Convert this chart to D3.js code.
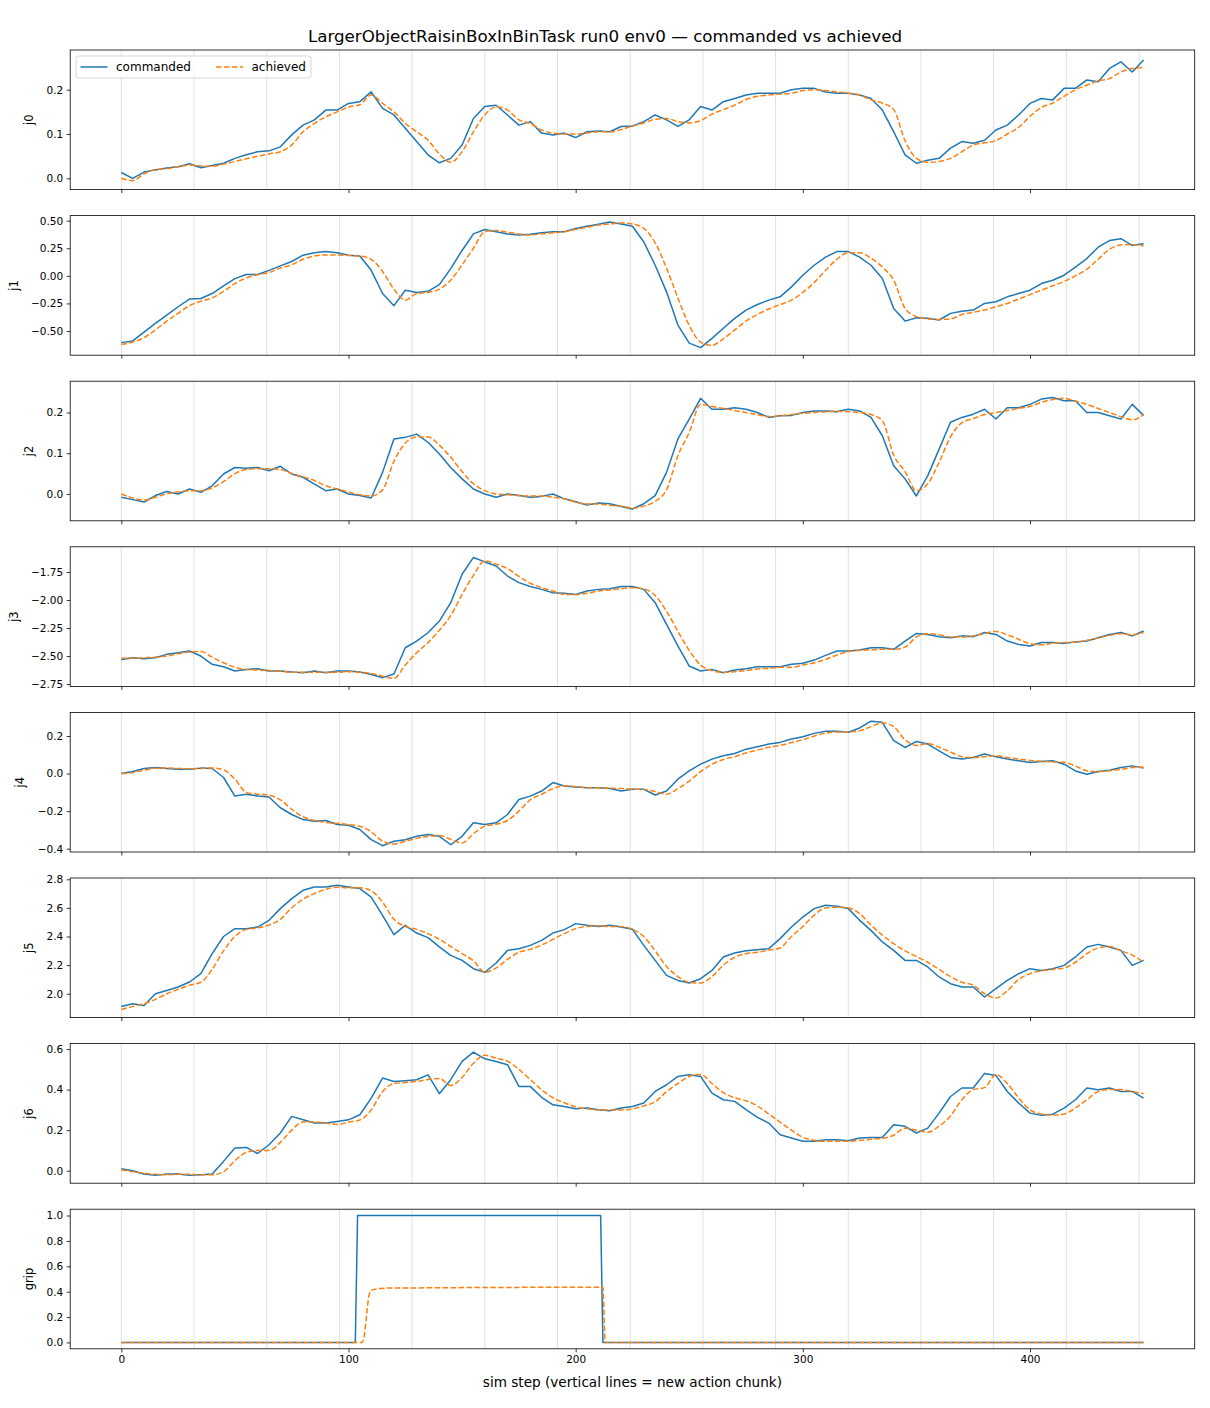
<!DOCTYPE html>
<html>
<head>
<meta charset="utf-8">
<script src="https://cdn.jsdelivr.net/npm/d3@7"></script>
<style>
  body { margin: 0; background: #fff; }
  text { font-family: "DejaVu Sans", sans-serif; }
</style>
</head>
<body>
<div id="chart"></div>
<script>
/* Chart data. */
const steps = [0, 5, 10, 15, 20, 25, 30, 35, 40, 45, 50, 55, 60, 65, 70, 75, 80, 85, 90, 95,
    100, 105, 110, 115, 120, 125, 130, 135, 140, 145, 150, 155, 160, 165, 170, 175, 180, 185, 190, 195,
    200, 205, 210, 215, 220, 225, 230, 235, 240, 245, 250, 255, 260, 265, 270, 275, 280, 285, 290, 295,
    300, 305, 310, 315, 320, 325, 330, 335, 340, 345, 350, 355, 360, 365, 370, 375, 380, 385, 390, 395,
    400, 405, 410, 415, 420, 425, 430, 435, 440, 445, 450];

const j0Cmd = [0.013, 0.0, 0.014, 0.019, 0.023, 0.026, 0.033, 0.024, 0.029, 0.034, 0.045, 0.053, 0.06, 0.062, 0.071, 0.098, 0.12, 0.132, 0.154, 0.154,
    0.169, 0.173, 0.195, 0.158, 0.143, 0.113, 0.083, 0.053, 0.035, 0.045, 0.075, 0.135, 0.162, 0.165, 0.143, 0.12, 0.128, 0.102, 0.098, 0.102,
    0.092, 0.105, 0.107, 0.105, 0.117, 0.118, 0.128, 0.143, 0.132, 0.117, 0.132, 0.162, 0.154, 0.173, 0.18, 0.188, 0.192, 0.192, 0.192, 0.2,
    0.203, 0.203, 0.195, 0.192, 0.192, 0.188, 0.18, 0.154, 0.105, 0.053, 0.034, 0.041, 0.045, 0.068, 0.083, 0.079, 0.086, 0.109, 0.12, 0.143,
    0.169, 0.18, 0.177, 0.203, 0.203, 0.222, 0.218, 0.248, 0.263, 0.24, 0.267];
const j0Ach = [0.0, -0.005, 0.01, 0.02, 0.022, 0.026, 0.03, 0.028, 0.027, 0.032, 0.038, 0.044, 0.05, 0.055, 0.06, 0.075, 0.105, 0.124, 0.139, 0.15,
    0.161, 0.166, 0.188, 0.169, 0.15, 0.124, 0.105, 0.086, 0.055, 0.036, 0.06, 0.105, 0.143, 0.161, 0.154, 0.132, 0.124, 0.109, 0.102, 0.1,
    0.1, 0.102, 0.105, 0.105, 0.11, 0.118, 0.125, 0.133, 0.135, 0.128, 0.125, 0.13, 0.145, 0.155, 0.165, 0.178, 0.185, 0.188, 0.19, 0.192,
    0.198, 0.2, 0.198, 0.195, 0.192, 0.188, 0.177, 0.17, 0.155, 0.085, 0.045, 0.036, 0.038, 0.045, 0.06, 0.075, 0.08, 0.085, 0.1, 0.115,
    0.14, 0.16, 0.17, 0.185, 0.2, 0.21, 0.22, 0.225, 0.24, 0.248, 0.25];

const j1Cmd = [-0.605, -0.59, -0.51, -0.43, -0.355, -0.28, -0.21, -0.205, -0.16, -0.09, -0.025, 0.012, 0.012, 0.05, 0.09, 0.13, 0.187, 0.21, 0.22, 0.21,
    0.187, 0.18, 0.05, -0.16, -0.27, -0.13, -0.15, -0.14, -0.08, 0.066, 0.23, 0.38, 0.42, 0.4, 0.38, 0.37, 0.376, 0.39, 0.4, 0.4,
    0.43, 0.45, 0.467, 0.488, 0.47, 0.45, 0.307, 0.096, -0.145, -0.446, -0.61, -0.65, -0.566, -0.475, -0.385, -0.31, -0.26, -0.22, -0.19, -0.1,
    0.006, 0.096, 0.17, 0.22, 0.22, 0.17, 0.096, -0.024, -0.295, -0.41, -0.38, -0.385, -0.4, -0.34, -0.32, -0.31, -0.25, -0.235, -0.19, -0.16,
    -0.13, -0.07, -0.04, 0.006, 0.08, 0.157, 0.26, 0.32, 0.337, 0.277, 0.29];
const j1Ach = [-0.62, -0.6, -0.56, -0.49, -0.41, -0.34, -0.27, -0.23, -0.2, -0.14, -0.07, -0.02, 0.01, 0.03, 0.07, 0.1, 0.15, 0.18, 0.19, 0.19,
    0.185, 0.18, 0.15, 0.04, -0.12, -0.22, -0.16, -0.15, -0.12, -0.04, 0.1, 0.25, 0.4, 0.41, 0.395, 0.38, 0.37, 0.38, 0.39, 0.4,
    0.42, 0.44, 0.46, 0.47, 0.48, 0.47, 0.43, 0.3, 0.07, -0.2, -0.45, -0.6, -0.63, -0.57, -0.49, -0.41, -0.35, -0.3, -0.26, -0.22,
    -0.15, -0.06, 0.05, 0.15, 0.21, 0.21, 0.16, 0.08, -0.04, -0.295, -0.37, -0.39, -0.395, -0.39, -0.35, -0.33, -0.31, -0.28, -0.25, -0.21,
    -0.17, -0.13, -0.09, -0.05, 0.0, 0.06, 0.15, 0.24, 0.28, 0.285, 0.27];

const j2Cmd = [-0.008, -0.014, -0.02, -0.004, 0.006, 0.0, 0.012, 0.004, 0.02, 0.049, 0.065, 0.063, 0.065, 0.057, 0.068, 0.049, 0.041, 0.024, 0.008, 0.012,
    0.0, -0.004, -0.01, 0.053, 0.135, 0.139, 0.147, 0.127, 0.098, 0.065, 0.037, 0.012, 0.0, -0.008, 0.0, -0.004, -0.008, -0.006, 0.0, -0.012,
    -0.019, -0.027, -0.022, -0.024, -0.031, -0.037, -0.024, -0.004, 0.053, 0.135, 0.184, 0.235, 0.208, 0.208, 0.212, 0.208, 0.2, 0.188, 0.192, 0.193,
    0.2, 0.204, 0.204, 0.202, 0.208, 0.204, 0.188, 0.143, 0.069, 0.037, -0.005, 0.045, 0.11, 0.176, 0.188, 0.196, 0.208, 0.184, 0.212, 0.212,
    0.22, 0.233, 0.237, 0.229, 0.229, 0.2, 0.2, 0.192, 0.184, 0.22, 0.193];
const j2Ach = [0.0, -0.01, -0.015, -0.008, 0.0, 0.005, 0.008, 0.008, 0.015, 0.03, 0.05, 0.06, 0.062, 0.062, 0.06, 0.05, 0.042, 0.033, 0.02, 0.012,
    0.005, -0.002, -0.005, 0.01, 0.08, 0.125, 0.14, 0.14, 0.12, 0.09, 0.055, 0.025, 0.008, 0.0, -0.002, -0.004, -0.005, -0.005, -0.008, -0.012,
    -0.02, -0.025, -0.025, -0.028, -0.03, -0.035, -0.03, -0.018, 0.01, 0.094, 0.151, 0.22, 0.215, 0.21, 0.205, 0.2, 0.195, 0.19, 0.192, 0.195,
    0.198, 0.2, 0.202, 0.203, 0.202, 0.2, 0.195, 0.18, 0.095, 0.055, 0.008, 0.025, 0.078, 0.14, 0.175, 0.185, 0.195, 0.2, 0.205, 0.21,
    0.215, 0.225, 0.232, 0.235, 0.228, 0.22, 0.21, 0.2, 0.19, 0.182, 0.195];

const j3Cmd = [-2.53, -2.515, -2.524, -2.515, -2.485, -2.47, -2.455, -2.5, -2.574, -2.595, -2.634, -2.62, -2.613, -2.634, -2.634, -2.643, -2.649, -2.634, -2.649, -2.634,
    -2.634, -2.643, -2.664, -2.693, -2.66, -2.426, -2.366, -2.292, -2.188, -2.024, -1.77, -1.62, -1.66, -1.696, -1.786, -1.845, -1.88, -1.905, -1.935, -1.94,
    -1.95, -1.92, -1.905, -1.9, -1.88, -1.88, -1.905, -2.024, -2.217, -2.41, -2.589, -2.634, -2.619, -2.649, -2.625, -2.613, -2.595, -2.595, -2.595, -2.574,
    -2.565, -2.536, -2.494, -2.455, -2.455, -2.446, -2.426, -2.426, -2.44, -2.366, -2.298, -2.307, -2.327, -2.336, -2.32, -2.327, -2.29, -2.307, -2.366, -2.396,
    -2.41, -2.38, -2.38, -2.387, -2.375, -2.366, -2.336, -2.307, -2.29, -2.32, -2.277];
const j3Ach = [-2.52, -2.52, -2.515, -2.51, -2.5, -2.48, -2.465, -2.46, -2.51, -2.56, -2.6, -2.62, -2.625, -2.63, -2.635, -2.645, -2.645, -2.645, -2.645, -2.645,
    -2.64, -2.645, -2.655, -2.68, -2.7, -2.58, -2.47, -2.38, -2.27, -2.14, -1.95, -1.78, -1.65, -1.68, -1.72, -1.79, -1.85, -1.89, -1.92, -1.95,
    -1.95, -1.94, -1.92, -1.91, -1.9, -1.89, -1.9, -1.96, -2.1, -2.28, -2.45, -2.58, -2.63, -2.645, -2.64, -2.63, -2.615, -2.61, -2.6, -2.6,
    -2.58, -2.56, -2.53, -2.49, -2.46, -2.45, -2.445, -2.44, -2.44, -2.42, -2.33, -2.3, -2.31, -2.33, -2.33, -2.32, -2.3, -2.28, -2.31, -2.35,
    -2.39, -2.4, -2.385, -2.38, -2.375, -2.36, -2.34, -2.315, -2.3, -2.31, -2.29];

const j4Cmd = [0.0, 0.011, 0.027, 0.032, 0.027, 0.023, 0.023, 0.029, 0.027, -0.021, -0.12, -0.11, -0.12, -0.125, -0.182, -0.218, -0.245, -0.254, -0.25, -0.271,
    -0.275, -0.298, -0.352, -0.384, -0.36, -0.352, -0.334, -0.325, -0.334, -0.379, -0.334, -0.262, -0.271, -0.262, -0.218, -0.138, -0.12, -0.093, -0.048, -0.066,
    -0.071, -0.075, -0.075, -0.079, -0.093, -0.084, -0.084, -0.114, -0.093, -0.03, 0.014, 0.05, 0.077, 0.095, 0.107, 0.13, 0.143, 0.157, 0.166, 0.184,
    0.196, 0.214, 0.225, 0.225, 0.22, 0.243, 0.279, 0.273, 0.175, 0.139, 0.171, 0.157, 0.121, 0.086, 0.077, 0.086, 0.104, 0.089, 0.077, 0.068,
    0.059, 0.064, 0.068, 0.05, 0.014, -0.004, 0.011, 0.018, 0.032, 0.041, 0.029];
const j4Ach = [0.0, 0.005, 0.018, 0.028, 0.03, 0.027, 0.026, 0.027, 0.03, 0.02, -0.03, -0.1, -0.11, -0.115, -0.14, -0.19, -0.23, -0.25, -0.26, -0.265,
    -0.272, -0.28, -0.31, -0.36, -0.375, -0.36, -0.345, -0.335, -0.33, -0.35, -0.37, -0.32, -0.28, -0.27, -0.25, -0.2, -0.14, -0.11, -0.08, -0.065,
    -0.07, -0.075, -0.076, -0.078, -0.08, -0.083, -0.085, -0.095, -0.11, -0.08, -0.04, 0.01, 0.05, 0.075, 0.09, 0.11, 0.125, 0.14, 0.15, 0.165,
    0.18, 0.2, 0.215, 0.222, 0.222, 0.228, 0.25, 0.27, 0.25, 0.18, 0.15, 0.16, 0.14, 0.115, 0.09, 0.085, 0.09, 0.095, 0.085, 0.077,
    0.07, 0.065, 0.062, 0.06, 0.04, 0.015, 0.01, 0.015, 0.022, 0.032, 0.035];

const j5Cmd = [1.911, 1.93, 1.918, 2.0, 2.023, 2.047, 2.082, 2.14, 2.28, 2.4, 2.455, 2.455, 2.466, 2.513, 2.595, 2.665, 2.723, 2.746, 2.746, 2.758,
    2.746, 2.735, 2.676, 2.548, 2.413, 2.478, 2.424, 2.392, 2.327, 2.268, 2.233, 2.175, 2.15, 2.215, 2.303, 2.315, 2.338, 2.373, 2.424, 2.448,
    2.49, 2.478, 2.47, 2.478, 2.466, 2.45, 2.338, 2.233, 2.128, 2.093, 2.075, 2.105, 2.163, 2.257, 2.285, 2.3, 2.308, 2.315, 2.385, 2.466,
    2.536, 2.595, 2.618, 2.611, 2.595, 2.513, 2.443, 2.362, 2.303, 2.233, 2.233, 2.187, 2.117, 2.07, 2.047, 2.047, 1.977, 2.035, 2.093, 2.14,
    2.175, 2.163, 2.175, 2.198, 2.257, 2.327, 2.345, 2.327, 2.303, 2.198, 2.233];
const j5Ach = [1.89, 1.91, 1.93, 1.96, 2.0, 2.03, 2.06, 2.08, 2.17, 2.3, 2.4, 2.45, 2.46, 2.48, 2.52, 2.6, 2.66, 2.7, 2.73, 2.745,
    2.74, 2.74, 2.72, 2.64, 2.52, 2.47, 2.45, 2.42, 2.38, 2.33, 2.28, 2.23, 2.15, 2.18, 2.24, 2.29, 2.31, 2.34, 2.38, 2.42,
    2.455, 2.47, 2.475, 2.47, 2.47, 2.45, 2.4, 2.3, 2.19, 2.12, 2.08, 2.075, 2.12, 2.2, 2.255, 2.28, 2.29, 2.305, 2.32, 2.4,
    2.47, 2.55, 2.6, 2.605, 2.6, 2.56, 2.48, 2.41, 2.35, 2.3, 2.26, 2.22, 2.17, 2.12, 2.08, 2.06, 2.0, 1.97, 2.02, 2.1,
    2.14, 2.16, 2.17, 2.18, 2.22, 2.28, 2.32, 2.33, 2.3, 2.27, 2.22];

const j6Cmd = [0.01, 0.0, -0.016, -0.023, -0.016, -0.016, -0.023, -0.02, -0.016, 0.046, 0.112, 0.115, 0.085, 0.128, 0.186, 0.268, 0.251, 0.235, 0.235, 0.243,
    0.251, 0.276, 0.358, 0.457, 0.44, 0.444, 0.449, 0.473, 0.38, 0.449, 0.539, 0.585, 0.552, 0.539, 0.523, 0.416, 0.416, 0.362, 0.325, 0.317,
    0.306, 0.309, 0.301, 0.296, 0.309, 0.317, 0.334, 0.391, 0.424, 0.465, 0.473, 0.465, 0.383, 0.35, 0.342, 0.301, 0.263, 0.235, 0.177, 0.161,
    0.145, 0.145, 0.153, 0.153, 0.148, 0.161, 0.164, 0.164, 0.227, 0.219, 0.186, 0.21, 0.284, 0.366, 0.408, 0.408, 0.48, 0.47, 0.391, 0.334,
    0.284, 0.273, 0.279, 0.309, 0.35, 0.408, 0.399, 0.408, 0.391, 0.391, 0.358];
const j6Ach = [0.005, -0.005, -0.012, -0.018, -0.02, -0.018, -0.018, -0.02, -0.02, -0.005, 0.05, 0.09, 0.1, 0.1, 0.14, 0.2, 0.24, 0.24, 0.235, 0.228,
    0.24, 0.25, 0.3, 0.39, 0.43, 0.435, 0.44, 0.45, 0.455, 0.42, 0.46, 0.53, 0.57, 0.555, 0.54, 0.5, 0.45, 0.4, 0.36, 0.335,
    0.315, 0.305, 0.3, 0.3, 0.3, 0.305, 0.32, 0.34, 0.39, 0.43, 0.465, 0.475, 0.43, 0.385, 0.36, 0.345, 0.32, 0.28, 0.24, 0.2,
    0.165, 0.15, 0.145, 0.145, 0.145, 0.15, 0.155, 0.16, 0.175, 0.21, 0.2, 0.19, 0.22, 0.27, 0.35, 0.4, 0.41, 0.475, 0.43, 0.36,
    0.3, 0.28, 0.275, 0.28, 0.31, 0.35, 0.39, 0.4, 0.4, 0.39, 0.38];

// Gripper is a step signal, so it keeps its own step lists.
const gripCmdSteps = [0, 103, 104, 211, 212, 450];
const gripCmd = [0, 0, 1, 1, 0, 0];
const gripAchSteps = [0, 106, 107, 108, 109, 110, 112, 116, 212, 213, 450];
const gripAch = [0, 0, 0.06, 0.22, 0.37, 0.41, 0.42, 0.428, 0.435, 0, 0];

// Steps where a new action chunk starts.
const chunkStarts = [0, 32, 64, 96, 128, 160, 192, 224, 256, 288, 320, 352, 384, 416, 448];

// Tick labels.
const xTicks = [0, 100, 200, 300, 400];
const j0Ticks = [0.0, 0.1, 0.2];
const j1Ticks = [-0.5, -0.25, 0.0, 0.25, 0.5];
const j2Ticks = [0.0, 0.1, 0.2];
const j3Ticks = [-2.75, -2.5, -2.25, -2.0, -1.75];
const j4Ticks = [-0.4, -0.2, 0.0, 0.2];
const j5Ticks = [2.0, 2.2, 2.4, 2.6, 2.8];
const j6Ticks = [0.0, 0.2, 0.4, 0.6];
const gripTicks = [0.0, 0.2, 0.4, 0.6, 0.8, 1.0];

const title = 'LargerObjectRaisinBoxInBinTask run0 env0 \u2014 commanded vs achieved';
const xLabel = 'sim step (vertical lines = new action chunk)';

/* Panel table built from the arrays above. */
const panels = [
    {name: 'j0', cmdX: steps, cmd: j0Cmd, achX: steps, ach: j0Ach, ticks: j0Ticks, fmt: '.1f', lim: [-0.0255, 0.2896]},
    {name: 'j1', cmdX: steps, cmd: j1Cmd, achX: steps, ach: j1Ach, ticks: j1Ticks, fmt: '.2f', lim: [-0.719, 0.546]},
    {name: 'j2', cmdX: steps, cmd: j2Cmd, achX: steps, ach: j2Ach, ticks: j2Ticks, fmt: '.1f', lim: [-0.066, 0.277]},
    {name: 'j3', cmdX: steps, cmd: j3Cmd, achX: steps, ach: j3Ach, ticks: j3Ticks, fmt: '.2f', lim: [-2.771, -1.525]},
    {name: 'j4', cmdX: steps, cmd: j4Cmd, achX: steps, ach: j4Ach, ticks: j4Ticks, fmt: '.1f', lim: [-0.4176, 0.3257]},
    {name: 'j5', cmdX: steps, cmd: j5Cmd, achX: steps, ach: j5Ach, ticks: j5Ticks, fmt: '.1f', lim: [1.833, 2.809]},
    {name: 'j6', cmdX: steps, cmd: j6Cmd, achX: steps, ach: j6Ach, ticks: j6Ticks, fmt: '.1f', lim: [-0.0616, 0.627]},
    {name: 'grip', cmdX: gripCmdSteps, cmd: gripCmd, achX: gripAchSteps, ach: gripAch, ticks: gripTicks, fmt: '.1f', lim: [-0.05, 1.05]}
];

/* Layout values. */
const W = 1210, H = 1408;
const left = 70.2, plotW = 1124.5;
const top0 = 50, rowStep = 165.6, plotH = 139.6;
const BLUE = '#1f77b4', ORANGE = '#ff7f0e';
const TICK_FS = 10.5;

const svg = d3.select('#chart').append('svg')
    .attr('width', W)
    .attr('height', H)
    .attr('viewBox', '0 0 ' + W + ' ' + H);

svg.append('rect').attr('width', W).attr('height', H).attr('fill', '#fff');

// Shared x scale (matplotlib-like 5% margin around 0..450).
const x = d3.scaleLinear().domain([-22.5, 472.5]).range([0, plotW]);

// Commanded is drawn straight point to point, achieved is a smooth trace.
const line = function (y, curve) {
    return d3.line()
        .curve(curve)
        .x(function (d) { return x(d[0]); })
        .y(function (d) { return y(d[1]); });
};

panels.forEach(function (p, i) {
    const g = svg.append('g')
        .attr('transform', 'translate(' + left + ',' + (top0 + i * rowStep) + ')');

    const y = d3.scaleLinear().domain(p.lim).range([plotH, 0]);

    // Clip the traces to the axes box.
    const clipId = 'clip' + i;
    g.append('clipPath').attr('id', clipId)
        .append('rect').attr('width', plotW).attr('height', plotH);

    // Chunk boundary lines.
    g.append('g').selectAll('line')
        .data(chunkStarts)
        .enter()
        .append('line')
        .attr('x1', function (d) { return x(d); })
        .attr('x2', function (d) { return x(d); })
        .attr('y1', 0)
        .attr('y2', plotH)
        .attr('stroke', 'gray')
        .attr('stroke-opacity', 0.3)
        .attr('stroke-width', 0.8);

    const traces = g.append('g').attr('clip-path', 'url(#' + clipId + ')');

    traces.append('path')
        .datum(d3.zip(p.cmdX, p.cmd))
        .attr('d', line(y, d3.curveLinear))
        .attr('fill', 'none')
        .attr('stroke', BLUE)
        .attr('stroke-width', 1.5)
        .attr('stroke-linejoin', 'round');

    traces.append('path')
        .datum(d3.zip(p.achX, p.ach))
        .attr('d', line(y, d3.curveMonotoneX))
        .attr('fill', 'none')
        .attr('stroke', ORANGE)
        .attr('stroke-width', 1.5)
        .attr('stroke-dasharray', '5.55,2.4');

    // Axes.
    const isLast = i === panels.length - 1;
    const xAxis = d3.axisBottom(x).tickValues(xTicks).tickSize(3.5).tickPadding(3.5);
    if (!isLast) xAxis.tickFormat('');
    const gx = g.append('g')
        .attr('transform', 'translate(0,' + plotH + ')')
        .call(xAxis);
    gx.select('.domain').remove();
    gx.selectAll('line').attr('stroke', '#000').attr('stroke-width', 0.8);
    gx.selectAll('text').attr('font-size', TICK_FS).attr('fill', '#000')
        .attr('font-family', '"DejaVu Sans", sans-serif');

    const gy = g.append('g')
        .call(d3.axisLeft(y).tickValues(p.ticks).tickFormat(d3.format(p.fmt)).tickSize(3.5).tickPadding(3.5));
    gy.select('.domain').remove();
    gy.selectAll('line').attr('stroke', '#000').attr('stroke-width', 0.8);
    gy.selectAll('text').attr('font-size', TICK_FS).attr('fill', '#000')
        .attr('font-family', '"DejaVu Sans", sans-serif');

    // Y label sits left of the widest tick label.
    let maxW = 0;
    gy.selectAll('text').each(function () {
        maxW = Math.max(maxW, this.getComputedTextLength());
    });
    const lx = -(7 + maxW + 17.5);
    g.append('text')
        .attr('transform', 'translate(' + lx + ',' + (plotH / 2) + ') rotate(-90)')
        .attr('text-anchor', 'middle')
        .attr('dominant-baseline', 'central')
        .attr('font-size', 11.5)
        .text(p.name);

    // Spines.
    g.append('rect')
        .attr('width', plotW)
        .attr('height', plotH)
        .attr('fill', 'none')
        .attr('stroke', '#000')
        .attr('stroke-width', 0.8);

    // Legend only on the first panel.
    if (i === 0) {
        const lg = g.append('g').attr('transform', 'translate(5.8,6)');
        lg.append('rect')
            .attr('width', 235)
            .attr('height', 22)
            .attr('rx', 2.5)
            .attr('fill', '#fff')
            .attr('fill-opacity', 0.8)
            .attr('stroke', '#ccc')
            .attr('stroke-width', 0.8);
        const items = [
            {label: 'commanded', color: BLUE, dash: null, x0: 4.5},
            {label: 'achieved', color: ORANGE, dash: '5.55,2.4', x0: 140}
        ];
        items.forEach(function (it) {
            lg.append('line')
                .attr('x1', it.x0).attr('x2', it.x0 + 27)
                .attr('y1', 11).attr('y2', 11)
                .attr('stroke', it.color)
                .attr('stroke-width', 1.5)
                .attr('stroke-dasharray', it.dash);
            lg.append('text')
                .attr('x', it.x0 + 35.5)
                .attr('y', 15.2)
                .attr('font-size', 12)
                .text(it.label);
        });
    }
});

// Figure title and shared x label.
svg.append('text')
    .attr('x', W / 2)
    .attr('y', 41.8)
    .attr('text-anchor', 'middle')
    .attr('font-size', 16.7)
    .text(title);

svg.append('text')
    .attr('x', left + plotW / 2)
    .attr('y', 1387)
    .attr('text-anchor', 'middle')
    .attr('font-size', 13.6)
    .text(xLabel);
</script>
</body>
</html>
